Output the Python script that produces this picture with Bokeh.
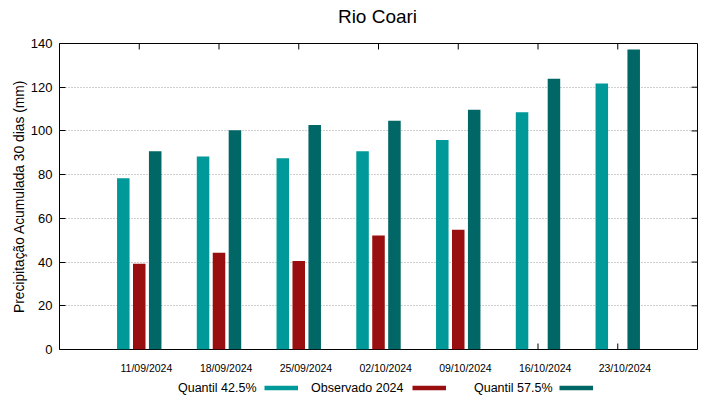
from bokeh.plotting import figure
from bokeh.models import Range1d, LinearAxis, FixedTicker, ColumnDataSource, CustomJSTickFormatter
from bokeh.layouts import column
from bokeh.transform import dodge
from bokeh.embed import file_html
from bokeh.resources import INLINE
from bokeh.core.properties import value

# ---- data ----
title_text = "Rio Coari"
dates = ["11/09/2024", "18/09/2024", "25/09/2024", "02/10/2024",
         "09/10/2024", "16/10/2024", "23/10/2024"]
quantil_425 = [78.4, 88.3, 87.5, 90.7, 95.9, 108.5, 121.7]
observado_2024 = [39.2, 44.3, 40.5, 52.1, 54.8, None, None]
quantil_575 = [90.7, 100.3, 102.7, 104.7, 109.7, 123.9, 137.3]
y_ticks = [0, 20, 40, 60, 80, 100, 120, 140]
series_labels = ["Quantil 42.5%", "Observado 2024", "Quantil 57.5%"]
series_colors = ["#009999", "#990e0e", "#006666"]

FONT = "Liberation Sans"
pos = list(range(1, len(dates) + 1))
X0, X1 = 0, len(dates) + 1
Y0, Y1 = 0, 140

BL, BR = 59, 22          # frame borders (px)
W = 719

def strip(height):
    f = figure(width=W, height=height, x_range=Range1d(BL, W - BR), y_range=Range1d(0, height),
               output_backend="svg", toolbar_location=None,
               x_axis_location=None, y_axis_location=None,
               min_border_left=BL, min_border_right=BR, min_border_top=0, min_border_bottom=0)
    f.outline_line_color = None
    f.grid.visible = False
    return f

# ---- title strip ----
head = strip(30)
head.text(x=[(BL + W - BR) / 2 - 1], y=[14], text=[title_text], text_align="center",
          text_baseline="middle", text_font=value(FONT), text_font_size="19px",
          text_color="#000000")

# ---- main chart ----
src = ColumnDataSource(dict(x=pos, q1=quantil_425, q2=quantil_575))
obs_x = [x for x, v in zip(pos, observado_2024) if v is not None]
obs_v = [v for v in observado_2024 if v is not None]
src_obs = ColumnDataSource(dict(x=obs_x, v=obs_v))

p = figure(width=W, height=346,
           x_range=Range1d(X0, X1), y_range=Range1d(Y0, Y1),
           output_backend="svg", toolbar_location=None,
           x_axis_location=None, y_axis_location=None,
           min_border_left=BL, min_border_right=BR,
           min_border_top=13, min_border_bottom=26)

p.outline_line_color = "#000000"
p.outline_line_width = 1
p.outline_line_alpha = 1

p.ygrid.ticker = FixedTicker(ticks=y_ticks)
p.ygrid.grid_line_color = "#a0a0a0"
p.ygrid.grid_line_dash = "1 2"
p.ygrid.grid_line_width = 1
p.xgrid.grid_line_color = None

# mirrored inward tick marks (gnuplot style), from the axis tick lists
tx = 6 / 79.75
ty = 6 * (Y1 - Y0) / 307.0
p.segment(x0=pos, x1=pos, y0=[Y0] * len(pos), y1=[Y0 + ty] * len(pos), line_color="#000000", line_width=1)
p.segment(x0=pos, x1=pos, y0=[Y1 - ty] * len(pos), y1=[Y1] * len(pos), line_color="#000000", line_width=1)
p.segment(x0=[X1 - tx] * len(y_ticks), x1=[X1] * len(y_ticks), y0=y_ticks, y1=y_ticks, line_color="#000000", line_width=1)

bw = 0.157
p.vbar(x=dodge("x", -0.2, range=p.x_range), top="q1", width=bw, source=src,
       fill_color=series_colors[0], line_color=None)
p.vbar(x=dodge("x", 0.0, range=p.x_range), top="v", width=bw, source=src_obs,
       fill_color=series_colors[1], line_color=None)
p.vbar(x=dodge("x", 0.2, range=p.x_range), top="q2", width=bw, source=src,
       fill_color=series_colors[2], line_color=None)

left = LinearAxis(ticker=FixedTicker(ticks=y_ticks),
                  axis_label="Precipitação Acumulada 30 dias (mm)")
left.major_tick_in = 6
left.major_tick_out = 0
left.minor_tick_line_color = None
left.major_tick_line_color = "#000000"
left.axis_line_color = None
left.major_label_text_font = FONT
left.major_label_text_color = "#000000"
left.major_label_text_font_size = "13px"
left.major_label_standoff = 7
left.axis_label_text_font = FONT
left.axis_label_text_font_size = "13.8px"
left.axis_label_text_font_style = "normal"
left.axis_label_text_color = "#000000"
left.axis_label_standoff = 1
p.add_layout(left, "left")

bottom = LinearAxis(ticker=FixedTicker(ticks=[x + 0.09 for x in pos]),
                    formatter=CustomJSTickFormatter(
                        args=dict(labels=dates),
                        code="return labels[Math.round(tick) - 1];"))
bottom.major_tick_in = 0
bottom.major_tick_out = 0
bottom.major_tick_line_color = None
bottom.minor_tick_line_color = None
bottom.axis_line_color = None
bottom.major_label_text_font = FONT
bottom.major_label_text_color = "#000000"
bottom.major_label_text_font_size = "10.5px"
bottom.major_label_standoff = 12
p.add_layout(bottom, "below")

# ---- legend strip (gnuplot style: text, then sample) ----
leg = strip(23)
text_right = [256, 403, 552]
box_left = [264, 412, 559]
leg.text(x=text_right, y=[12] * 3, text=series_labels, text_align="right",
         text_baseline="middle", text_font=value(FONT), text_font_size="12.5px",
         text_color="#000000")
leg.quad(left=box_left, right=[b + 33.5 for b in box_left], bottom=9.3, top=13.7,
         fill_color=series_colors, line_color=None)

layout = column(head, p, leg, spacing=0)
open("out.html", "w").write(file_html(layout, INLINE))
